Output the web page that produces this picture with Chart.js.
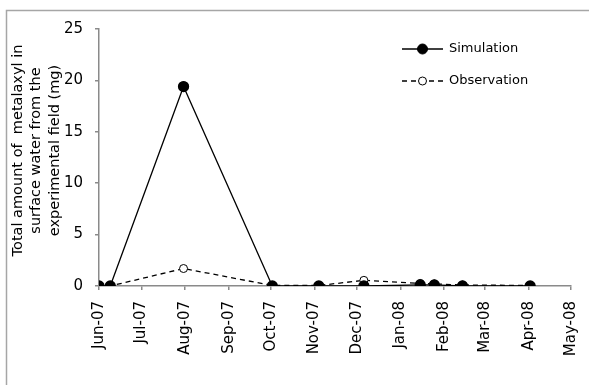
<!DOCTYPE html>
<html>
<head>
<meta charset="utf-8">
<script src="https://cdn.jsdelivr.net/npm/chart.js@4"></script>
<style>
  html, body { margin: 0; padding: 0; background: #fff; }
  #wrap { position: relative; width: 589px; height: 385px; }
</style>
</head>
<body>
<div id="wrap"><canvas id="c" width="589" height="385"></canvas></div>
<script>
// Sampling dates (runoff events) and metalaxyl loads in mg
const sampleDates = ['2007-06-01', '2007-06-09', '2007-07-31', '2007-10-02', '2007-11-04',
                     '2007-12-06', '2008-01-15', '2008-01-25', '2008-02-14', '2008-04-02'];
const simulation  = [0, 0, 19.4, 0, 0, 0, 0.1, 0.1, 0, 0];
const observation = [0, 0, 1.7, 0.05, 0.05, 0.55, 0.25, 0.2, 0.1, 0.05];
const monthLabels = ['Jun-07', 'Jul-07', 'Aug-07', 'Sep-07', 'Oct-07', 'Nov-07',
                     'Dec-07', 'Jan-08', 'Feb-08', 'Mar-08', 'Apr-08', 'May-08'];
const yTicks = [0, 5, 10, 15, 20, 25];
const seriesNames = ['Simulation', 'Observation'];
const yTitle = ['Total amount of  metalaxyl in', 'surface water from the', 'experimental field (mg)'];

// days counted from the first of June 2007
const origin = Date.UTC(2007, 5, 1);
const dayOf = s => {
  const [y, m, d] = s.split('-').map(Number);
  return Math.round((Date.UTC(y, m - 1, d) - origin) / 86400000);
};
const monthDays = monthLabels.map((_, i) => Math.round((Date.UTC(2007, 5 + i, 1) - origin) / 86400000));

const simPts = sampleDates.map((d, i) => ({ x: dayOf(d), y: simulation[i] }));
const obsPts = sampleDates.map((d, i) => ({ x: dayOf(d), y: observation[i] }));

const FONT = 'DejaVu Sans';
const AXIS = '#8a8a8a';

// outer frame, rotated y title and legend
const decor = {
  id: 'decor',
  beforeDraw(chart) {
    const ctx = chart.ctx;
    ctx.save();
    ctx.strokeStyle = '#a6a6a6';
    ctx.lineWidth = 1.5;
    ctx.strokeRect(6.5, 10.5, 700, 600);
    ctx.restore();
  },
  afterDraw(chart) {
    const ctx = chart.ctx;
    const area = chart.chartArea;
    ctx.save();
    // y-axis title, three lines read bottom to top
    ctx.fillStyle = '#000';
    ctx.font = '14.5px "' + FONT + '"';
    ctx.textAlign = 'center';
    ctx.textBaseline = 'middle';
    ctx.translate(18, (area.top + area.bottom) / 2 - 7);
    ctx.rotate(-Math.PI / 2);
    yTitle.forEach((line, i) => ctx.fillText(line, 0, i * 18.5));
    ctx.restore();

    ctx.save();
    ctx.font = '13px "' + FONT + '"';
    ctx.textBaseline = 'middle';
    const rows = [49, 81];
    chart.data.datasets.forEach((ds, i) => {
      const y = rows[i];
      ctx.strokeStyle = '#000';
      ctx.lineWidth = 1.3;
      ctx.setLineDash(ds.borderDash || []);
      ctx.beginPath();
      ctx.moveTo(402, y); ctx.lineTo(443, y);
      ctx.stroke();
      ctx.setLineDash([]);
      ctx.beginPath();
      ctx.arc(422.5, y, ds.pointRadius, 0, Math.PI * 2);
      ctx.fillStyle = ds.pointBackgroundColor;
      ctx.fill();
      ctx.lineWidth = 1;
      ctx.stroke();
      ctx.fillStyle = '#000';
      ctx.fillText(ds.label, 449, y);
    });
    ctx.restore();
  }
};

new Chart(document.getElementById('c'), {
  type: 'line',
  data: {
    datasets: [
      {
        label: seriesNames[0],
        data: simPts,
        borderColor: '#000',
        borderWidth: 1.3,
        pointRadius: 5,
        pointBackgroundColor: '#000',
        pointBorderColor: '#000',
        tension: 0
      },
      {
        label: seriesNames[1],
        data: obsPts,
        borderColor: '#000',
        borderWidth: 1.3,
        borderDash: [5, 4],
        pointRadius: 4,
        pointBackgroundColor: '#fff',
        pointBorderColor: '#000',
        pointBorderWidth: 1,
        tension: 0
      }
    ]
  },
  options: {
    responsive: false,
    animation: false,
    events: [],
    layout: { padding: { left: 0, right: 18, top: 29, bottom: 0 } },
    plugins: { legend: { display: false }, tooltip: { enabled: false } },
    scales: {
      x: {
        type: 'linear',
        min: 0,
        max: monthDays[monthDays.length - 1],
        afterBuildTicks: s => { s.ticks = monthDays.map(v => ({ value: v })); },
        afterFit: s => { s.height = 99; s.paddingRight = 0; s.paddingLeft = 0; },
        border: { color: AXIS, width: 1.5 },
        grid: { drawOnChartArea: false, drawTicks: true, tickLength: 4, color: AXIS, lineWidth: 1.5 },
        ticks: {
          autoSkip: false,
          maxRotation: 90,
          minRotation: 90,
          padding: 11,
          color: '#000',
          font: { family: FONT, size: 15 },
          callback: (v) => monthLabels[monthDays.indexOf(v)]
        }
      },
      y: {
        min: 0,
        max: 25,
        afterBuildTicks: s => { s.ticks = yTicks.map(v => ({ value: v })); },
        afterFit: s => { s.width = 99; s.paddingTop = 0; s.paddingBottom = 0; },
        border: { color: AXIS, width: 1.5 },
        grid: { drawOnChartArea: false, drawTicks: true, tickLength: 4, color: AXIS, lineWidth: 1.5 },
        ticks: {
          padding: 12,
          color: '#000',
          font: { family: FONT, size: 15 }
        },
        title: { display: false }
      }
    }
  },
  plugins: [decor]
});
</script>
</body>
</html>
